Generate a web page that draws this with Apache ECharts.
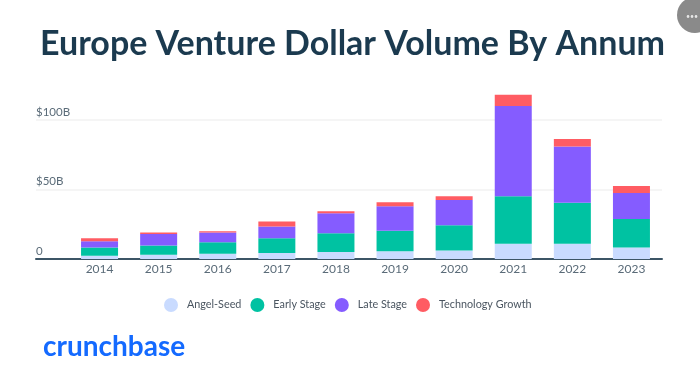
<!DOCTYPE html>
<html>

<head>
	<meta charset="UTF-8">
	<title>Europe Venture Dollar Volume By Annum</title>
	<style>
		html, body { margin: 0; padding: 0; background: #fff; }
		#chart { width: 700px; height: 375px; }
	</style>
	<script src="https://cdn.jsdelivr.net/npm/echarts@6/dist/echarts.min.js"></script>
</head>

<body>
	<div id="chart"></div>
	<script>
		var years = ['2014', '2015', '2016', '2017', '2018', '2019', '2020', '2021', '2022', '2023'];

		// values in $B
		var angelSeed = [2.4, 3, 3.8, 4.3, 5, 5.5, 6.2, 11, 11, 8.2];
		var earlyStage = [5.8, 6.8, 8.2, 10.6, 13.5, 14.9, 18, 34.1, 29.5, 20.6];
		var lateStage = [4.5, 8.2, 7, 8.4, 14.4, 17.5, 18.2, 64.9, 40.5, 18.7];
		var techGrowth = [2.2, 1, 1, 3.6, 1.4, 2.9, 2.7, 8.2, 5.3, 5];

		var seriesNames = ['Angel-Seed', 'Early Stage', 'Late Stage', 'Technology Growth'];
		var seriesValues = [angelSeed, earlyStage, lateStage, techGrowth];
		var seriesColors = ['#c9dbff', '#00c2a2', '#855cff', '#ff5c63'];

		var myChart = echarts.init(document.getElementById('chart'));

		var font = 'Lato';

		var option = {
			animation: false,
			backgroundColor: '#fff',
			title: [{
				text: 'Europe Venture Dollar Volume By Annum',
				left: 35,
				top: 22,
				textStyle: { fontFamily: font, fontSize: 34, fontWeight: 'bold', color: '#1b3a4f' }
			}, {
				text: 'crunchbase',
				left: 38,
				top: 328,
				textStyle: { fontFamily: font, fontSize: 28, fontWeight: 'bold', color: '#146aff' }
			}],
			legend: {
				left: 159,
				top: 293,
				itemWidth: 14,
				itemHeight: 14,
				itemGap: 9,
				icon: 'circle',
				textStyle: { fontFamily: font, fontSize: 10.8, color: '#4a5560', padding: [0, 0, 0, 4] }
			},
			// first grid carries the wide gridlines and axis line, second one the bars
			grid: [
				{ left: 36, right: 38, top: 50.5, bottom: 116 },
				{ left: 70, right: 39, top: 50.5, bottom: 116 }
			],
			xAxis: [{
				type: 'category',
				gridIndex: 0,
				data: [''],
				axisLine: { lineStyle: { color: '#3c5566', width: 2 } },
				axisTick: { show: false },
				axisLabel: { show: false }
			}, {
				type: 'category',
				gridIndex: 1,
				data: years,
				axisLine: { show: false },
				axisTick: { show: false },
				axisLabel: { fontFamily: font, fontSize: 12, color: '#5a6b78', margin: 4 }
			}],
			yAxis: [{
				type: 'value',
				gridIndex: 0,
				min: 0,
				max: 150,
				interval: 50,
				axisLine: { show: false },
				axisTick: { show: false },
				splitLine: { showMaxLine: false, lineStyle: { color: '#f2f2f2', width: 1.5 } },
				axisLabel: {
					inside: true,
					margin: 0,
					showMaxLabel: false,
					verticalAlign: 'bottom',
					padding: [0, 0, 2, 0],
					fontFamily: font,
					fontSize: 11.5,
					color: '#5a6b78',
					formatter: function (v) {
						return v === 0 ? '0' : '$' + v + 'B';
					}
				}
			}, {
				type: 'value',
				gridIndex: 1,
				min: 0,
				max: 150,
				interval: 50,
				show: false
			}],
			series: seriesNames.map(function (name, i) {
				return {
					name: name,
					type: 'bar',
					stack: 'total',
					xAxisIndex: 1,
					yAxisIndex: 1,
					barWidth: 37,
					data: seriesValues[i],
					itemStyle: { color: seriesColors[i] }
				};
			}),
			// viewer's menu button sitting on the corner of the screenshot
			graphic: [{
				type: 'circle',
				shape: { cx: 695, cy: 15, r: 18 },
				style: { fill: '#8a8a8a' }
			}, {
				type: 'text',
				x: 692,
				y: 17,
				style: {
					text: '•••',
					fill: '#e6e6e6',
					font: '7px Lato',
					align: 'center',
					verticalAlign: 'middle'
				}
			}]
		};

		myChart.setOption(option);
	</script>
</body>

</html>
